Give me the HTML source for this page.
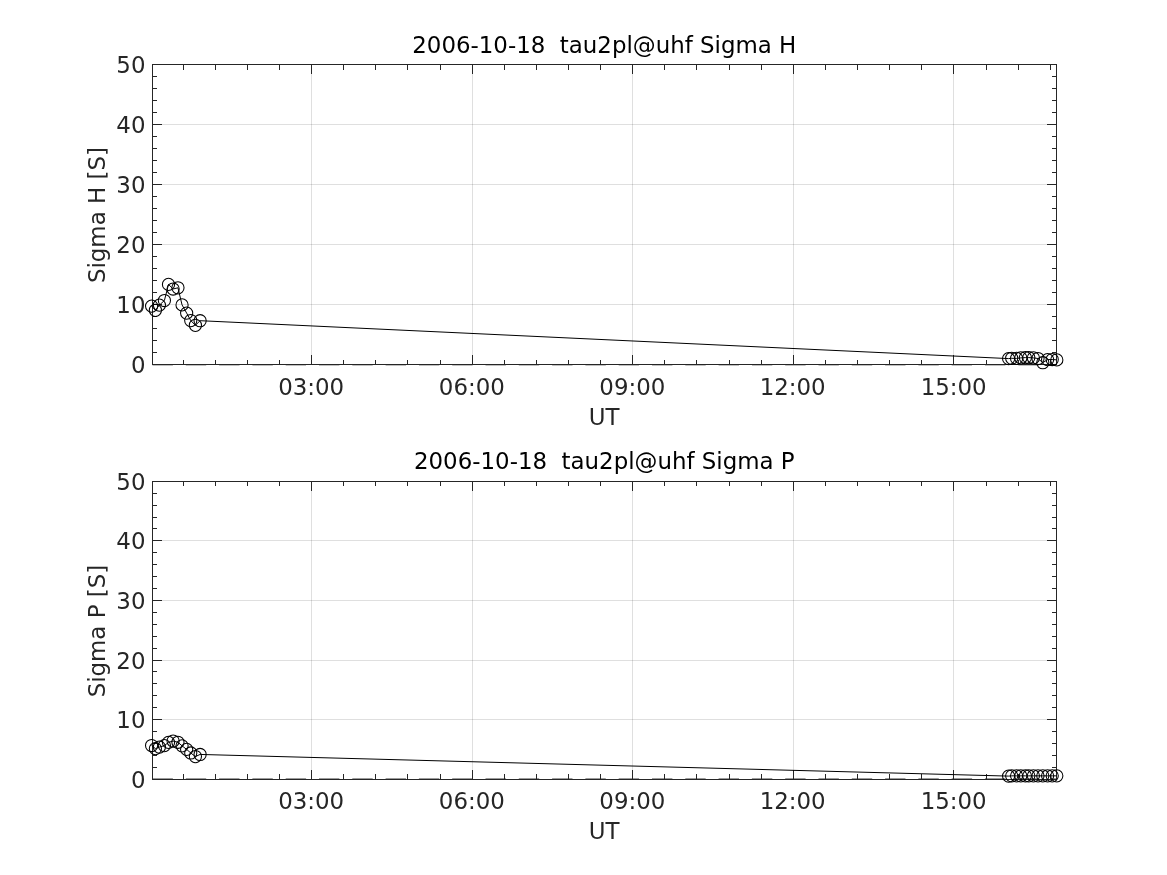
<!DOCTYPE html>
<html lang="en"><head><meta charset="utf-8"><title>tau2pl@uhf Sigma H / Sigma P</title>
<style>
html,body{margin:0;padding:0;background:#fff;}
body{width:1167px;height:875px;overflow:hidden;}
svg{display:block;}
text{font-family:"DejaVu Sans","Liberation Sans",sans-serif;font-size:22.9px;}
.tk,.lb{fill:#262626;}
.tt{fill:#000;white-space:pre;}
</style></head><body>
<svg width="1167" height="875" viewBox="0 0 1167 875">
<rect width="1167" height="875" fill="#fff"/>
<g>
<path d="M311.5 64.5V364.5M472.5 64.5V364.5M632.5 64.5V364.5M793.5 64.5V364.5M953.5 64.5V364.5" stroke="#262626" stroke-opacity="0.15" stroke-width="1" fill="none"/>
<path d="M152.5 304.5H1056.5M152.5 244.5H1056.5M152.5 184.5H1056.5M152.5 124.5H1056.5" stroke="#262626" stroke-opacity="0.15" stroke-width="1" fill="none"/>
<path d="M152.5 364.65H1056.5" stroke="#000" stroke-width="1.1" stroke-dasharray="20.4 12.9" fill="none"/>
<path d="M311.5 364.5v-9.5M311.5 64.5v9.5M472.5 364.5v-9.5M472.5 64.5v9.5M632.5 364.5v-9.5M632.5 64.5v9.5M793.5 364.5v-9.5M793.5 64.5v9.5M953.5 364.5v-9.5M953.5 64.5v9.5M183.5 364.5v-4.5M183.5 64.5v5.5M215.5 364.5v-4.5M215.5 64.5v5.5M247.5 364.5v-4.5M247.5 64.5v5.5M279.5 364.5v-4.5M279.5 64.5v5.5M343.5 364.5v-4.5M343.5 64.5v5.5M375.5 364.5v-4.5M375.5 64.5v5.5M407.5 364.5v-4.5M407.5 64.5v5.5M440.5 364.5v-4.5M440.5 64.5v5.5M504.5 364.5v-4.5M504.5 64.5v5.5M536.5 364.5v-4.5M536.5 64.5v5.5M568.5 364.5v-4.5M568.5 64.5v5.5M600.5 364.5v-4.5M600.5 64.5v5.5M664.5 364.5v-4.5M664.5 64.5v5.5M696.5 364.5v-4.5M696.5 64.5v5.5M729.5 364.5v-4.5M729.5 64.5v5.5M761.5 364.5v-4.5M761.5 64.5v5.5M825.5 364.5v-4.5M825.5 64.5v5.5M857.5 364.5v-4.5M857.5 64.5v5.5M889.5 364.5v-4.5M889.5 64.5v5.5M921.5 364.5v-4.5M921.5 64.5v5.5M986.5 364.5v-4.5M986.5 64.5v5.5M1018.5 364.5v-4.5M1018.5 64.5v5.5M1050.5 364.5v-4.5M1050.5 64.5v5.5M152.5 352.5h4.5M1056.5 352.5h-4.5M152.5 340.5h4.5M1056.5 340.5h-4.5M152.5 328.5h4.5M1056.5 328.5h-4.5M152.5 316.5h4.5M1056.5 316.5h-4.5M152.5 304.5h9.5M1056.5 304.5h-9.5M152.5 292.5h4.5M1056.5 292.5h-4.5M152.5 280.5h4.5M1056.5 280.5h-4.5M152.5 268.5h4.5M1056.5 268.5h-4.5M152.5 256.5h4.5M1056.5 256.5h-4.5M152.5 244.5h9.5M1056.5 244.5h-9.5M152.5 232.5h4.5M1056.5 232.5h-4.5M152.5 220.5h4.5M1056.5 220.5h-4.5M152.5 208.5h4.5M1056.5 208.5h-4.5M152.5 196.5h4.5M1056.5 196.5h-4.5M152.5 184.5h9.5M1056.5 184.5h-9.5M152.5 172.5h4.5M1056.5 172.5h-4.5M152.5 160.5h4.5M1056.5 160.5h-4.5M152.5 148.5h4.5M1056.5 148.5h-4.5M152.5 136.5h4.5M1056.5 136.5h-4.5M152.5 124.5h9.5M1056.5 124.5h-9.5M152.5 112.5h4.5M1056.5 112.5h-4.5M152.5 100.5h4.5M1056.5 100.5h-4.5M152.5 88.5h4.5M1056.5 88.5h-4.5M152.5 76.5h4.5M1056.5 76.5h-4.5" stroke="#262626" stroke-width="1" fill="none"/>
<rect x="152.5" y="64.5" width="904.0" height="300.0" fill="none" stroke="#262626" stroke-width="1"/>
<polyline points="151.60,306.10 155.40,310.30 159.40,305.10 164.40,300.50 168.50,284.40 173.10,289.00 177.95,287.80 182.05,304.90 186.65,313.10 190.75,320.55 195.40,325.30 200.10,320.70 1008.60,358.60 1011.70,358.30 1016.60,358.40 1020.80,357.90 1025.40,357.60 1028.80,357.60 1033.40,357.90 1038.00,358.50 1042.80,362.70 1047.60,359.60 1052.20,359.50 1056.80,359.90" fill="none" stroke="#000" stroke-width="1"/>
<g fill="none" stroke="#000" stroke-width="1.05"><circle cx="151.60" cy="306.10" r="6.1"/><circle cx="155.40" cy="310.30" r="6.1"/><circle cx="159.40" cy="305.10" r="6.1"/><circle cx="164.40" cy="300.50" r="6.1"/><circle cx="168.50" cy="284.40" r="6.1"/><circle cx="173.10" cy="289.00" r="6.1"/><circle cx="177.95" cy="287.80" r="6.1"/><circle cx="182.05" cy="304.90" r="6.1"/><circle cx="186.65" cy="313.10" r="6.1"/><circle cx="190.75" cy="320.55" r="6.1"/><circle cx="195.40" cy="325.30" r="6.1"/><circle cx="200.10" cy="320.70" r="6.1"/><circle cx="1008.60" cy="358.60" r="6.1"/><circle cx="1011.70" cy="358.30" r="6.1"/><circle cx="1016.60" cy="358.40" r="6.1"/><circle cx="1020.80" cy="357.90" r="6.1"/><circle cx="1025.40" cy="357.60" r="6.1"/><circle cx="1028.80" cy="357.60" r="6.1"/><circle cx="1033.40" cy="357.90" r="6.1"/><circle cx="1038.00" cy="358.50" r="6.1"/><circle cx="1042.80" cy="362.70" r="6.1"/><circle cx="1047.60" cy="359.60" r="6.1"/><circle cx="1052.20" cy="359.50" r="6.1"/><circle cx="1056.80" cy="359.90" r="6.1"/></g>
<text class="tk" x="145.5" y="373.10" text-anchor="end">0</text>
<text class="tk" x="145.5" y="313.10" text-anchor="end">10</text>
<text class="tk" x="145.5" y="253.10" text-anchor="end">20</text>
<text class="tk" x="145.5" y="193.10" text-anchor="end">30</text>
<text class="tk" x="145.5" y="133.10" text-anchor="end">40</text>
<text class="tk" x="145.5" y="73.10" text-anchor="end">50</text>
<text class="tk" x="311.15" y="395.20" text-anchor="middle">03:00</text>
<text class="tk" x="471.80" y="395.20" text-anchor="middle">06:00</text>
<text class="tk" x="632.30" y="395.20" text-anchor="middle">09:00</text>
<text class="tk" x="792.70" y="395.20" text-anchor="middle">12:00</text>
<text class="tk" x="953.65" y="395.20" text-anchor="middle">15:00</text>
<text class="lb" x="604.00" y="424.50" text-anchor="middle">UT</text>
<text class="lb" transform="translate(105.3 215.10) rotate(-90)" text-anchor="middle">Sigma H [S]</text>
<text class="tt" x="604.30" y="53.00" text-anchor="middle" xml:space="preserve">2006-10-18  tau2pl@uhf Sigma H</text>
</g>
<g>
<path d="M311.5 481.5V779.5M472.5 481.5V779.5M632.5 481.5V779.5M793.5 481.5V779.5M953.5 481.5V779.5" stroke="#262626" stroke-opacity="0.15" stroke-width="1" fill="none"/>
<path d="M152.5 719.5H1056.5M152.5 660.5H1056.5M152.5 600.5H1056.5M152.5 540.5H1056.5" stroke="#262626" stroke-opacity="0.15" stroke-width="1" fill="none"/>
<path d="M152.5 778.95H1056.5" stroke="#000" stroke-opacity="0.7" stroke-width="1" stroke-dasharray="20.4 12.9" fill="none"/>
<path d="M311.5 779.5v-9.5M311.5 481.5v9.5M472.5 779.5v-9.5M472.5 481.5v9.5M632.5 779.5v-9.5M632.5 481.5v9.5M793.5 779.5v-9.5M793.5 481.5v9.5M953.5 779.5v-9.5M953.5 481.5v9.5M183.5 779.5v-5.5M183.5 481.5v4.5M215.5 779.5v-5.5M215.5 481.5v4.5M247.5 779.5v-5.5M247.5 481.5v4.5M279.5 779.5v-5.5M279.5 481.5v4.5M343.5 779.5v-5.5M343.5 481.5v4.5M375.5 779.5v-5.5M375.5 481.5v4.5M407.5 779.5v-5.5M407.5 481.5v4.5M440.5 779.5v-5.5M440.5 481.5v4.5M504.5 779.5v-5.5M504.5 481.5v4.5M536.5 779.5v-5.5M536.5 481.5v4.5M568.5 779.5v-5.5M568.5 481.5v4.5M600.5 779.5v-5.5M600.5 481.5v4.5M664.5 779.5v-5.5M664.5 481.5v4.5M696.5 779.5v-5.5M696.5 481.5v4.5M729.5 779.5v-5.5M729.5 481.5v4.5M761.5 779.5v-5.5M761.5 481.5v4.5M825.5 779.5v-5.5M825.5 481.5v4.5M857.5 779.5v-5.5M857.5 481.5v4.5M889.5 779.5v-5.5M889.5 481.5v4.5M921.5 779.5v-5.5M921.5 481.5v4.5M986.5 779.5v-5.5M986.5 481.5v4.5M1018.5 779.5v-5.5M1018.5 481.5v4.5M1050.5 779.5v-5.5M1050.5 481.5v4.5M152.5 767.5h4.5M1056.5 767.5h-4.5M152.5 755.5h4.5M1056.5 755.5h-4.5M152.5 743.5h4.5M1056.5 743.5h-4.5M152.5 731.5h4.5M1056.5 731.5h-4.5M152.5 719.5h9.5M1056.5 719.5h-9.5M152.5 707.5h4.5M1056.5 707.5h-4.5M152.5 695.5h4.5M1056.5 695.5h-4.5M152.5 683.5h4.5M1056.5 683.5h-4.5M152.5 671.5h4.5M1056.5 671.5h-4.5M152.5 660.5h9.5M1056.5 660.5h-9.5M152.5 648.5h4.5M1056.5 648.5h-4.5M152.5 636.5h4.5M1056.5 636.5h-4.5M152.5 624.5h4.5M1056.5 624.5h-4.5M152.5 612.5h4.5M1056.5 612.5h-4.5M152.5 600.5h9.5M1056.5 600.5h-9.5M152.5 588.5h4.5M1056.5 588.5h-4.5M152.5 576.5h4.5M1056.5 576.5h-4.5M152.5 564.5h4.5M1056.5 564.5h-4.5M152.5 552.5h4.5M1056.5 552.5h-4.5M152.5 540.5h9.5M1056.5 540.5h-9.5M152.5 528.5h4.5M1056.5 528.5h-4.5M152.5 517.5h4.5M1056.5 517.5h-4.5M152.5 505.5h4.5M1056.5 505.5h-4.5M152.5 493.5h4.5M1056.5 493.5h-4.5" stroke="#262626" stroke-width="1" fill="none"/>
<rect x="152.5" y="481.5" width="904.0" height="298.0" fill="none" stroke="#262626" stroke-width="1"/>
<polyline points="151.60,745.50 155.40,748.60 159.40,747.10 164.40,745.60 168.50,742.40 173.10,741.00 177.95,742.25 182.05,745.83 186.65,749.40 190.75,752.98 195.40,756.55 200.10,754.45 1008.60,776.10 1011.70,775.85 1016.60,775.85 1020.80,775.85 1025.40,775.85 1028.80,775.85 1033.40,775.85 1038.00,775.85 1042.80,775.85 1047.60,775.85 1052.20,775.85 1056.80,775.85" fill="none" stroke="#000" stroke-width="1"/>
<g fill="none" stroke="#000" stroke-width="1.05"><circle cx="151.60" cy="745.50" r="6.1"/><circle cx="155.40" cy="748.60" r="6.1"/><circle cx="159.40" cy="747.10" r="6.1"/><circle cx="164.40" cy="745.60" r="6.1"/><circle cx="168.50" cy="742.40" r="6.1"/><circle cx="173.10" cy="741.00" r="6.1"/><circle cx="177.95" cy="742.25" r="6.1"/><circle cx="182.05" cy="745.83" r="6.1"/><circle cx="186.65" cy="749.40" r="6.1"/><circle cx="190.75" cy="752.98" r="6.1"/><circle cx="195.40" cy="756.55" r="6.1"/><circle cx="200.10" cy="754.45" r="6.1"/><circle cx="1008.60" cy="776.10" r="6.1"/><circle cx="1011.70" cy="775.85" r="6.1"/><circle cx="1016.60" cy="775.85" r="6.1"/><circle cx="1020.80" cy="775.85" r="6.1"/><circle cx="1025.40" cy="775.85" r="6.1"/><circle cx="1028.80" cy="775.85" r="6.1"/><circle cx="1033.40" cy="775.85" r="6.1"/><circle cx="1038.00" cy="775.85" r="6.1"/><circle cx="1042.80" cy="775.85" r="6.1"/><circle cx="1047.60" cy="775.85" r="6.1"/><circle cx="1052.20" cy="775.85" r="6.1"/><circle cx="1056.80" cy="775.85" r="6.1"/></g>
<text class="tk" x="145.5" y="788.10" text-anchor="end">0</text>
<text class="tk" x="145.5" y="728.10" text-anchor="end">10</text>
<text class="tk" x="145.5" y="669.10" text-anchor="end">20</text>
<text class="tk" x="145.5" y="609.10" text-anchor="end">30</text>
<text class="tk" x="145.5" y="549.10" text-anchor="end">40</text>
<text class="tk" x="145.5" y="490.10" text-anchor="end">50</text>
<text class="tk" x="311.15" y="809.20" text-anchor="middle">03:00</text>
<text class="tk" x="471.80" y="809.20" text-anchor="middle">06:00</text>
<text class="tk" x="632.30" y="809.20" text-anchor="middle">09:00</text>
<text class="tk" x="792.70" y="809.20" text-anchor="middle">12:00</text>
<text class="tk" x="953.65" y="809.20" text-anchor="middle">15:00</text>
<text class="lb" x="604.00" y="838.50" text-anchor="middle">UT</text>
<text class="lb" transform="translate(105.3 631.10) rotate(-90)" text-anchor="middle">Sigma P [S]</text>
<text class="tt" x="604.30" y="469.00" text-anchor="middle" xml:space="preserve">2006-10-18  tau2pl@uhf Sigma P</text>
</g>
</svg></body></html>
